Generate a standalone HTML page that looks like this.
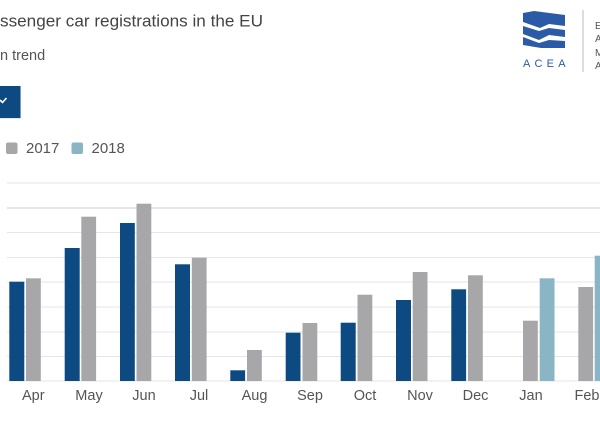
<!DOCTYPE html>
<html><head><meta charset="utf-8"><style>
html,body{margin:0;padding:0;background:#fff;}
body{width:600px;height:423px;overflow:hidden;position:relative;}
svg{position:absolute;left:0;top:0;}
text{font-family:"Liberation Sans",Arial,sans-serif;}
</style></head><body>
<svg width="600" height="423" viewBox="0 0 600 423" xmlns="http://www.w3.org/2000/svg">
<rect width="600" height="423" fill="#fff"/>
<!-- title -->
<text x="0" y="26.5" font-size="17" fill="#444" textLength="263" lengthAdjust="spacingAndGlyphs">ssenger car registrations in the EU</text>
<text x="0" y="60" font-size="14.5" fill="#555">n trend</text>
<!-- button -->
<rect x="-4" y="87" width="25" height="32" fill="#cfd6de" opacity="0.5"/>
<rect x="-4" y="86" width="24.5" height="32" fill="#0d4a82"/>
<polyline points="0,100 2.5,102.5 6.5,98" fill="none" stroke="#fff" stroke-width="1.6"/>
<!-- legend -->
<rect x="6" y="142.5" width="11.5" height="11.5" rx="2" fill="#a7a7aa"/>
<text x="26" y="153" font-size="15" fill="#555">2017</text>
<rect x="71.5" y="142.5" width="11.5" height="11.5" rx="2" fill="#8ab5c5"/>
<text x="91.5" y="153" font-size="15" fill="#555">2018</text>
<!-- logo -->
<g fill="#2b5aa6">
<polygon points="523,13 534,11 565,15 565,26 549,24 540,28 523,22"/>
<polygon points="523,26 539,31 549,28 565,30 565,37 549,35 539,40 523,34"/>
<polygon points="523,37 539,43 549,40 565,41 565,48 541,48 523,45"/>
</g>
<text x="523" y="67" font-size="11" fill="#2b5aa6" letter-spacing="4.2">ACEA</text>
<line x1="583" y1="10" x2="583" y2="72" stroke="#bbb" stroke-width="1"/>
<g font-size="10" fill="#555">
<text x="595" y="29">E</text>
<text x="595" y="42">A</text>
<text x="595" y="56">M</text>
<text x="595" y="69">A</text>
</g>
<!-- grid -->
<g stroke="#e6e6e6" stroke-width="1">
<line x1="7" y1="183" x2="600" y2="183"/>
<line x1="7" y1="208" x2="600" y2="208" stroke="#dedede" stroke-width="1.5"/>
<line x1="7" y1="232.5" x2="600" y2="232.5"/>
<line x1="7" y1="257.5" x2="600" y2="257.5"/>
<line x1="7" y1="282" x2="600" y2="282"/>
<line x1="7" y1="307" x2="600" y2="307"/>
<line x1="7" y1="332" x2="600" y2="332"/>
<line x1="7" y1="356.5" x2="600" y2="356.5"/>
<line x1="7" y1="381" x2="600" y2="381"/>
</g>
<!-- bars -->
<g fill="#0d4a82">
<rect x="9.3" y="281.7" width="15" height="99.3"/>
<rect x="64.7" y="248" width="15" height="133"/>
<rect x="120" y="223" width="14.8" height="158"/>
<rect x="175" y="264.3" width="15" height="116.7"/>
<rect x="230.3" y="370.3" width="14.8" height="10.7"/>
<rect x="285.7" y="332.7" width="14.8" height="48.3"/>
<rect x="340.7" y="322.7" width="15" height="58.3"/>
<rect x="396" y="300" width="15" height="81"/>
<rect x="451.3" y="289.3" width="14.8" height="91.7"/>
</g>
<g fill="#a7a7aa">
<rect x="26" y="278.3" width="14.8" height="102.7"/>
<rect x="81.3" y="216.7" width="14.8" height="164.3"/>
<rect x="136.5" y="203.7" width="14.8" height="177.3"/>
<rect x="191.8" y="257.7" width="14.8" height="123.3"/>
<rect x="247" y="350" width="14.8" height="31"/>
<rect x="302.5" y="323" width="14.8" height="58"/>
<rect x="357.5" y="294.7" width="14.8" height="86.3"/>
<rect x="412.7" y="272" width="14.8" height="109"/>
<rect x="468" y="275.3" width="14.8" height="105.7"/>
<rect x="523" y="320.7" width="14.8" height="60.3"/>
<rect x="578.3" y="287" width="14.8" height="94"/>
</g>
<g fill="#8ab5c5">
<rect x="539.7" y="278.3" width="14.8" height="102.7"/>
<rect x="594.7" y="255.7" width="14.8" height="125.3"/>
</g>
<!-- x labels -->
<g font-size="14.5" fill="#555" text-anchor="middle">
<text x="33.3" y="400">Apr</text>
<text x="89" y="400">May</text>
<text x="144" y="400">Jun</text>
<text x="199" y="400">Jul</text>
<text x="254.5" y="400">Aug</text>
<text x="310" y="400">Sep</text>
<text x="365" y="400">Oct</text>
<text x="420" y="400">Nov</text>
<text x="475.5" y="400">Dec</text>
<text x="531" y="400">Jan</text>
<text x="587" y="400">Feb</text>
</g>
</svg>
</body></html>
